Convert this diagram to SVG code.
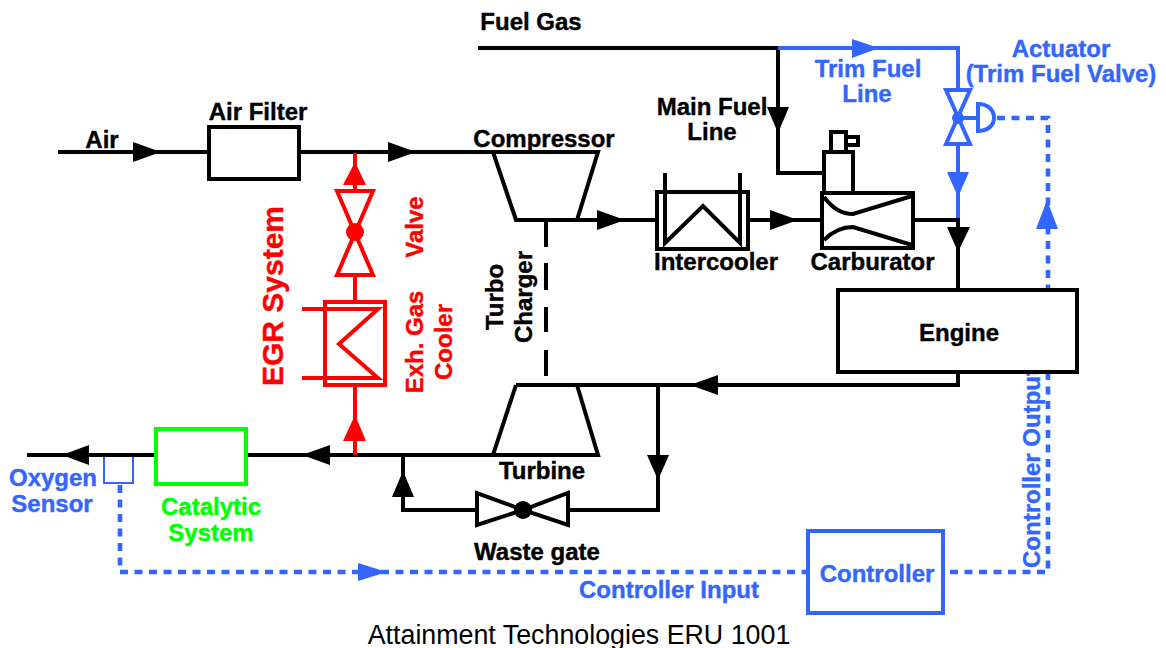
<svg xmlns="http://www.w3.org/2000/svg" width="1166" height="648" viewBox="0 0 1166 648">
<style>
text{font-family:"Liberation Sans",Arial,sans-serif;font-weight:bold;font-size:24px;text-anchor:middle;stroke-width:.4}
.k{fill:#000}.b{fill:#3366ff}.r{fill:#ff0000}.g{fill:#00ff00}
text.k{stroke:#000}text.b{stroke:#3366ff}text.r{stroke:#ff0000}text.g{stroke:#00ff00}
.lk,.lb,.lr,.lg,.db{fill:none;stroke-linejoin:miter}
.lk{stroke:#000;stroke-width:4}.lb{stroke:#3366ff;stroke-width:4}.lr{stroke:#ff0000;stroke-width:4}.lg{stroke:#00ff00;stroke-width:4}
.db{stroke:#3366ff;stroke-width:4.600;stroke-dasharray:8 6.500}
</style>
<rect width="1166" height="648" fill="#fff"/>
<g id="connectors">
<path class="lk" d="M478 48H778V173H822"/>
<path class="lb" d="M778 48H958V92"/>
<path class="lb" d="M958 144V222"/>
<path class="lk" d="M913 220H958V290"/>
<path class="lk" d="M58 152H209"/>
<path class="lk" d="M299 152H493"/>
<path class="lk" d="M577 220H657"/>
<path class="lk" d="M748 220H822"/>
<path class="lk" d="M546 220V247M546 263V290M546 307V332M546 350V376"/>
<path class="lk" d="M958 372V385H516"/>
<path class="lk" d="M658 385V510H568"/>
<path class="lk" d="M477 510H403V455"/>
<path class="lk" d="M27 455H156"/>
<path class="lk" d="M246 455H493"/>
<path class="lr" d="M355 455V386"/>
<path class="lr" d="M355 301V275"/>
<path class="lr" d="M355 191V153"/>
<path class="lb" d="M958 118H978"/>
<path class="db" d="M997 118H1048V290"/>
<path class="db" d="M1048 372V572H945"/>
<path class="db" d="M120 485V572H807"/>
<path class="k" d="M133 142L161 152L133 162Z"/>
<path class="k" d="M388 142L416 152L388 162Z"/>
<path class="k" d="M597 210L625 220L597 230Z"/>
<path class="k" d="M770 210L798 220L770 230Z"/>
<path class="k" d="M767 107H789L778 133Z"/>
<path class="k" d="M947 227H970L958 252Z"/>
<path class="b" d="M852 39L879 48L852 58Z"/>
<path class="b" d="M947 172H969L958 197Z"/>
<path class="b" d="M1036 229H1058L1047 200Z"/>
<path class="b" d="M358 563L387 572L358 581Z"/>
<path class="k" d="M718 375L690 385L718 395Z"/>
<path class="k" d="M647 455H669L658 480Z"/>
<path class="k" d="M392 497H414L403 471Z"/>
<path class="k" d="M330 445L302 455L330 465Z"/>
<path class="k" d="M89 445L62 455L89 465Z"/>
<path class="r" d="M343 185H366L355 162Z"/>
<path class="r" d="M343 441H366L355 415Z"/>
</g>
<g id="air-filter"><rect class="lk" x="209" y="127" width="90" height="52"/><text class="k" x="258" y="120">Air Filter</text></g>
<g id="air-label"><text class="k" x="102" y="148">Air</text></g>
<g id="fuel-gas"><text class="k" x="531" y="30">Fuel Gas</text></g>
<g id="compressor"><path class="lk" d="M493 152L516 220H577L598 152Z"/><text class="k" x="544" y="147">Compressor</text></g>
<g id="turbo-charger"><text class="k" transform="translate(503 297) rotate(-90)">Turbo</text><text class="k" transform="translate(532 297) rotate(-90)">Charger</text></g>
<g id="turbine"><path class="lk" d="M516 385L493 455H598L577 385"/><text class="k" x="542" y="479">Turbine</text></g>
<g id="waste-gate"><path class="lk" d="M477 493V525L523 510ZM568 493V525L523 510Z"/><circle class="k" cx="523" cy="510" r="9"/><text class="k" x="537" y="560">Waste gate</text></g>
<g id="intercooler"><rect class="lk" x="657" y="192" width="91" height="57"/><path class="lk" d="M665 173V243L703 206L740 243V173"/><text class="k" x="716" y="270">Intercooler</text></g>
<g id="main-fuel-line"><text class="k" x="712" y="115">Main Fuel</text><text class="k" x="712" y="140">Line</text></g>
<g id="carburator"><rect class="lk" x="822" y="193" width="91" height="55"/><rect class="lk" x="824" y="152" width="29" height="41"/><rect class="lk" x="831" y="132" width="15" height="20"/><rect class="lk" x="846" y="137" width="12" height="8"/><path class="lk" d="M824 197C832 208 842 214 853 214L912 196M824 240C832 232 842 227 853 227L912 245"/><text class="k" x="872.500" y="270">Carburator</text></g>
<g id="trim-fuel"><text class="b" x="868" y="77">Trim Fuel</text><text class="b" x="867" y="102">Line</text></g>
<g id="actuator"><path class="lb" d="M946 90H970L946 144H970Z"/><circle class="b" cx="958" cy="118" r="6"/><path class="lb" d="M978 104V131C988 131 994 125 994 118C994 110 988 104 978 104Z"/><text class="b" x="1061" y="57">Actuator</text><text class="b" x="1061" y="82">(Trim Fuel Valve)</text></g>
<g id="egr"><path class="lr" d="M337 191H373L337 275H373Z"/><circle class="r" cx="355" cy="232" r="9"/><rect class="lr" x="325" y="302" width="60" height="83"/><path class="lr" d="M302 309H378L339 344L378 378H302"/><text class="r" style="font-size:30px" transform="translate(283 296) rotate(-90)">EGR System</text><text class="r" transform="translate(423 227) rotate(-90)">Valve</text><text class="r" transform="translate(423 342) rotate(-90)">Exh. Gas</text><text class="r" transform="translate(452 342) rotate(-90)">Cooler</text></g>
<g id="catalytic"><rect class="lg" x="156" y="429" width="90" height="55"/><text class="g" x="211" y="515">Catalytic</text><text class="g" x="211" y="541">System</text></g>
<g id="oxygen-sensor"><path fill="#fff" stroke="#3366ff" stroke-width="2" d="M104 457V483H133V457"/><text class="b" x="53" y="486">Oxygen</text><text class="b" x="52" y="512">Sensor</text></g>
<g id="controller"><rect class="lb" x="808" y="531" width="135" height="82"/><text class="b" x="877" y="582">Controller</text></g>
<g id="signal-labels"><text class="b" x="669" y="598">Controller Input</text><text class="b" style="text-anchor:start" transform="translate(1040 568) rotate(-90)">Controller Output</text></g>
<g id="engine"><rect class="lk" style="fill:#fff" x="838" y="290" width="239" height="82"/><text class="k" x="959" y="341">Engine</text></g>
<g id="caption"><text style="font-weight:normal;font-size:26.800px;fill:#000" x="579" y="644">Attainment Technologies ERU 1001</text></g>
</svg>
